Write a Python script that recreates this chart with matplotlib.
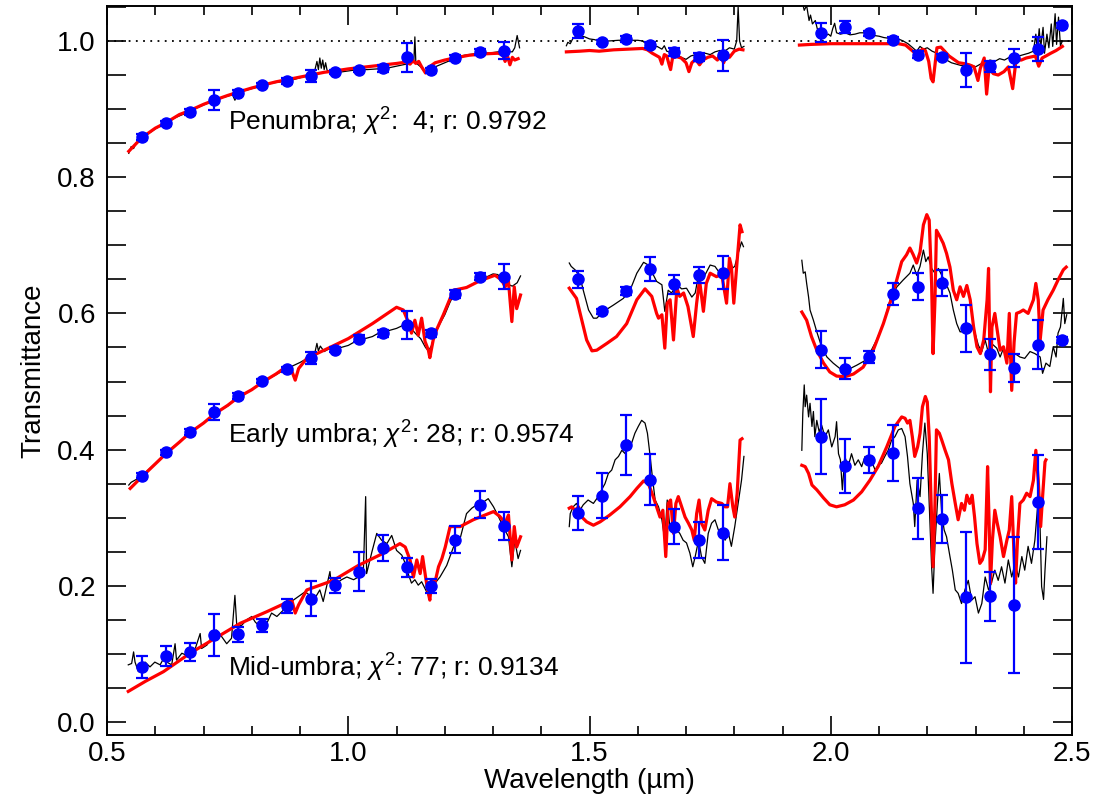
import matplotlib.pyplot as plt
from matplotlib.ticker import MultipleLocator

plt.rcParams['font.family'] = ['Liberation Sans', 'DejaVu Sans']
plt.rcParams['mathtext.fontset'] = 'custom'
plt.rcParams['mathtext.rm'] = 'Liberation Sans'
plt.rcParams['mathtext.it'] = 'Liberation Sans:italic'

# ---- broadband points (wavelength in um) ----
pts_w1 = [0.572, 0.622, 0.672, 0.722, 0.772, 0.822, 0.872, 0.922, 0.972, 1.022, 1.072, 1.122, 1.172, 1.222, 1.272, 1.322]
pts_w2 = [1.476, 1.526, 1.576, 1.626, 1.676, 1.726, 1.776]
pts_w3 = [1.980, 2.030, 2.080, 2.130, 2.180, 2.230, 2.280, 2.330, 2.380, 2.430, 2.480]

pen_pts = [0.859, 0.879, 0.896, 0.913, 0.924, 0.936, 0.941, 0.949, 0.955, 0.958, 0.960, 0.976, 0.957, 0.975, 0.984, 0.986,
           1.015, 0.999, 1.003, 0.994, 0.984, 0.976, 0.979,
           1.012, 1.021, 1.011, 1.002, 0.980, 0.977, 0.958, 0.963, 0.975, 0.988, 1.023]
pen_err = [0.004, 0.004, 0.004, 0.015, 0.004, 0.003, 0.004, 0.009, 0.003, 0.003, 0.005, 0.021, 0.004, 0.004, 0.004, 0.013,
           0.010, 0.003, 0.004, 0.005, 0.006, 0.006, 0.023,
           0.014, 0.009, 0.004, 0.004, 0.005, 0.004, 0.025, 0.008, 0.013, 0.018, 0.004]

early_pts = [0.362, 0.396, 0.426, 0.455, 0.479, 0.501, 0.518, 0.534, 0.547, 0.563, 0.571, 0.583, 0.571, 0.628, 0.654, 0.654,
             0.650, 0.603, 0.633, 0.665, 0.643, 0.656, 0.660,
             0.547, 0.519, 0.536, 0.628, 0.639, 0.645, 0.578, 0.540, 0.520, 0.554, 0.561]
early_err = [0.004, 0.004, 0.004, 0.012, 0.004, 0.003, 0.004, 0.009, 0.004, 0.005, 0.005, 0.021, 0.005, 0.006, 0.005, 0.018,
             0.012, 0.004, 0.006, 0.018, 0.014, 0.012, 0.024,
             0.027, 0.015, 0.009, 0.016, 0.020, 0.019, 0.035, 0.023, 0.021, 0.036, 0.004]

mid_pts = [0.081, 0.097, 0.103, 0.128, 0.129, 0.142, 0.170, 0.181, 0.201, 0.221, 0.256, 0.227, 0.200, 0.268, 0.319, 0.288,
           0.307, 0.332, 0.407, 0.356, 0.287, 0.267, 0.278,
           0.419, 0.376, 0.385, 0.395, 0.314, 0.298, 0.183, 0.185, 0.172, 0.323]
mid_err = [0.016, 0.015, 0.013, 0.031, 0.011, 0.010, 0.010, 0.026, 0.011, 0.029, 0.019, 0.014, 0.010, 0.020, 0.020, 0.021,
           0.025, 0.033, 0.044, 0.038, 0.026, 0.026, 0.040,
           0.055, 0.039, 0.019, 0.041, 0.045, 0.035, 0.096, 0.036, 0.100, 0.069]

# ---- penumbra spectrum (observed) and model, three windows ----
pen_obs_1 = [(0.545, 0.835), (0.550, 0.845), (0.555, 0.842), (0.560, 0.850), (0.570, 0.856), (0.580, 0.862), (0.590, 0.866),
             (0.600, 0.871), (0.610, 0.875), (0.620, 0.879), (0.630, 0.882), (0.640, 0.887), (0.650, 0.890), (0.660, 0.893),
             (0.670, 0.897), (0.680, 0.900), (0.690, 0.903), (0.700, 0.906), (0.720, 0.912), (0.740, 0.917), (0.760, 0.921),
             (0.765, 0.913), (0.770, 0.922), (0.780, 0.926), (0.800, 0.930), (0.820, 0.934), (0.840, 0.938), (0.860, 0.940),
             (0.880, 0.942), (0.900, 0.946), (0.920, 0.950), (0.930, 0.955), (0.935, 0.970), (0.938, 0.958), (0.941, 0.975),
             (0.944, 0.960), (0.947, 0.972), (0.950, 0.958), (0.953, 0.968), (0.956, 0.957), (0.960, 0.956), (0.970, 0.953),
             (0.980, 0.954), (1.000, 0.956), (1.020, 0.958), (1.040, 0.958), (1.060, 0.959), (1.080, 0.960), (1.100, 0.963),
             (1.120, 0.966), (1.130, 0.968), (1.136, 0.972), (1.138, 1.006), (1.140, 0.968), (1.150, 0.962), (1.160, 0.953),
             (1.170, 0.952), (1.180, 0.962), (1.200, 0.968), (1.220, 0.974), (1.240, 0.979), (1.260, 0.981), (1.280, 0.982),
             (1.300, 0.983), (1.320, 0.985), (1.340, 0.984), (1.345, 0.990), (1.350, 1.008), (1.355, 0.990)]
pen_obs_2 = [(1.452, 0.993), (1.455, 0.998), (1.460, 0.996), (1.465, 1.003), (1.470, 1.006), (1.475, 1.010), (1.480, 1.008),
             (1.490, 1.006), (1.500, 1.003), (1.510, 1.002), (1.520, 1.000), (1.540, 1.000), (1.560, 1.001), (1.580, 1.001),
             (1.600, 1.001), (1.610, 1.000), (1.620, 0.994), (1.630, 0.990), (1.640, 0.992), (1.650, 0.988), (1.655, 0.993),
             (1.660, 0.985), (1.670, 0.983), (1.680, 0.981), (1.690, 0.976), (1.700, 0.973), (1.710, 0.978), (1.720, 0.980),
             (1.730, 0.979), (1.740, 0.982), (1.750, 0.980), (1.760, 0.984), (1.770, 0.986), (1.780, 0.985), (1.790, 0.990),
             (1.800, 0.988), (1.805, 1.000), (1.808, 1.050), (1.811, 1.000), (1.815, 0.990), (1.820, 0.992)]
pen_obs_3 = [(1.940, 1.060), (1.945, 1.045), (1.950, 1.052), (1.955, 1.030), (1.958, 1.038), (1.962, 1.025), (1.968, 1.030),
             (1.972, 1.018), (1.978, 1.012), (1.985, 1.016), (1.990, 1.008), (1.995, 1.010), (2.000, 1.007), (2.004, 1.018),
             (2.008, 1.026), (2.012, 1.012), (2.020, 1.010), (2.030, 1.012), (2.040, 1.009), (2.050, 1.010), (2.060, 1.012),
             (2.070, 1.012), (2.080, 1.008), (2.090, 1.008), (2.100, 1.007), (2.110, 1.005), (2.120, 1.004), (2.130, 1.003),
             (2.140, 1.003), (2.150, 1.000), (2.160, 0.996), (2.170, 0.990), (2.178, 0.985), (2.185, 0.992), (2.192, 0.988),
             (2.200, 0.990), (2.210, 0.985), (2.220, 0.982), (2.230, 0.978), (2.240, 0.972), (2.250, 0.968), (2.260, 0.966),
             (2.270, 0.964), (2.280, 0.963), (2.290, 0.965), (2.300, 0.962), (2.310, 0.966), (2.320, 0.968), (2.330, 0.972),
             (2.340, 0.970), (2.350, 0.974), (2.360, 0.972), (2.370, 0.976), (2.380, 0.975), (2.390, 0.978), (2.400, 0.980),
             (2.410, 0.982), (2.420, 0.985), (2.425, 1.010), (2.428, 0.985), (2.432, 1.018), (2.435, 0.990), (2.440, 1.020),
             (2.443, 0.982), (2.448, 1.010), (2.452, 0.990), (2.457, 1.025), (2.460, 0.992), (2.465, 1.040), (2.468, 0.995),
             (2.472, 1.035), (2.476, 0.993), (2.480, 1.000)]
pen_mod_1 = [(0.545, 0.838), (0.572, 0.858), (0.600, 0.872), (0.622, 0.880), (0.650, 0.892), (0.672, 0.898), (0.700, 0.907),
             (0.722, 0.913), (0.750, 0.920), (0.772, 0.925), (0.800, 0.931), (0.822, 0.935), (0.850, 0.940), (0.872, 0.943),
             (0.900, 0.947), (0.922, 0.950), (0.950, 0.954), (0.972, 0.956), (1.000, 0.959), (1.050, 0.963), (1.100, 0.967),
             (1.120, 0.969), (1.128, 0.966), (1.134, 0.971), (1.140, 0.967), (1.146, 0.970), (1.152, 0.962), (1.160, 0.953),
             (1.166, 0.956), (1.172, 0.964), (1.180, 0.968), (1.200, 0.972), (1.220, 0.975), (1.250, 0.979), (1.280, 0.981),
             (1.310, 0.982), (1.320, 0.980), (1.325, 0.970), (1.330, 0.978), (1.335, 0.965), (1.340, 0.976), (1.345, 0.972),
             (1.352, 0.974)]
pen_mod_2 = [(1.452, 0.984), (1.480, 0.985), (1.500, 0.986), (1.520, 0.985), (1.550, 0.987), (1.580, 0.988), (1.610, 0.989),
             (1.620, 0.987), (1.630, 0.982), (1.640, 0.978), (1.645, 0.976), (1.650, 0.966), (1.655, 0.980), (1.660, 0.978),
             (1.665, 0.965), (1.668, 0.958), (1.672, 0.975), (1.680, 0.977), (1.690, 0.975), (1.700, 0.968), (1.706, 0.955),
             (1.712, 0.968), (1.720, 0.973), (1.728, 0.965), (1.735, 0.972), (1.745, 0.976), (1.755, 0.978), (1.765, 0.972),
             (1.770, 0.980), (1.778, 0.968), (1.785, 0.982), (1.790, 0.976), (1.800, 0.985), (1.810, 0.988), (1.818, 0.987)]
pen_mod_3 = [(1.935, 0.994), (1.960, 0.995), (2.000, 0.996), (2.050, 0.996), (2.100, 0.996), (2.140, 0.996), (2.155, 0.994),
             (2.165, 0.988), (2.175, 0.982), (2.180, 0.981), (2.190, 0.988), (2.196, 0.986), (2.203, 0.970), (2.208, 0.945),
             (2.212, 0.940), (2.216, 0.965), (2.220, 0.990), (2.228, 0.991), (2.236, 0.985), (2.245, 0.978), (2.255, 0.973),
             (2.265, 0.968), (2.275, 0.967), (2.287, 0.965), (2.297, 0.962), (2.305, 0.942), (2.310, 0.960), (2.318, 0.975),
             (2.323, 0.922), (2.328, 0.960), (2.337, 0.952), (2.347, 0.950), (2.359, 0.955), (2.368, 0.962), (2.377, 0.930),
             (2.384, 0.972), (2.395, 0.972), (2.405, 0.975), (2.418, 0.977), (2.424, 0.978), (2.431, 0.963), (2.438, 0.975),
             (2.446, 0.978), (2.456, 0.982), (2.467, 0.986), (2.480, 0.992)]

# ---- early umbra ----
early_obs_1 = [(0.545, 0.348), (0.550, 0.352), (0.560, 0.356), (0.572, 0.362), (0.585, 0.370), (0.600, 0.380), (0.610, 0.387),
               (0.622, 0.395), (0.635, 0.403), (0.650, 0.411), (0.660, 0.417), (0.672, 0.424), (0.685, 0.432), (0.700, 0.439),
               (0.710, 0.444), (0.722, 0.451), (0.735, 0.458), (0.750, 0.464), (0.760, 0.470), (0.772, 0.476), (0.785, 0.482),
               (0.800, 0.488), (0.810, 0.493), (0.822, 0.498), (0.835, 0.504), (0.850, 0.510), (0.860, 0.514), (0.872, 0.519),
               (0.885, 0.523), (0.900, 0.528), (0.910, 0.532), (0.922, 0.536), (0.930, 0.540), (0.935, 0.556), (0.938, 0.545),
               (0.942, 0.552), (0.950, 0.544), (0.960, 0.548), (0.972, 0.545), (0.985, 0.550), (1.000, 0.553), (1.010, 0.557),
               (1.022, 0.561), (1.035, 0.563), (1.050, 0.566), (1.060, 0.570), (1.072, 0.571), (1.085, 0.575), (1.100, 0.578),
               (1.112, 0.582), (1.122, 0.585), (1.130, 0.578), (1.140, 0.570), (1.150, 0.563), (1.160, 0.550), (1.166, 0.545),
               (1.172, 0.552), (1.180, 0.570), (1.190, 0.585), (1.200, 0.598), (1.210, 0.615), (1.220, 0.630), (1.235, 0.636),
               (1.250, 0.640), (1.270, 0.648), (1.285, 0.653), (1.300, 0.658), (1.310, 0.657), (1.320, 0.648), (1.330, 0.643),
               (1.340, 0.640), (1.350, 0.645), (1.357, 0.655)]
early_obs_2 = [(1.458, 0.674), (1.462, 0.669), (1.470, 0.664), (1.480, 0.654), (1.487, 0.634), (1.498, 0.605), (1.508, 0.593),
               (1.515, 0.593), (1.529, 0.603), (1.549, 0.612), (1.570, 0.622), (1.584, 0.634), (1.598, 0.659), (1.612, 0.675),
               (1.622, 0.671), (1.639, 0.647), (1.650, 0.642), (1.656, 0.603), (1.663, 0.634), (1.670, 0.630), (1.681, 0.642),
               (1.691, 0.636), (1.701, 0.637), (1.712, 0.624), (1.719, 0.630), (1.726, 0.657), (1.736, 0.652), (1.750, 0.671),
               (1.760, 0.669), (1.770, 0.659), (1.781, 0.661), (1.791, 0.664), (1.801, 0.669), (1.808, 0.688), (1.815, 0.705),
               (1.819, 0.698)]
early_obs_3 = [(1.940, 0.678), (1.943, 0.659), (1.947, 0.661), (1.950, 0.644), (1.954, 0.624), (1.957, 0.605), (1.964, 0.590),
               (1.971, 0.573), (1.981, 0.551), (1.992, 0.536), (2.005, 0.527), (2.019, 0.519), (2.029, 0.512), (2.040, 0.519),
               (2.054, 0.524), (2.074, 0.532), (2.095, 0.561), (2.109, 0.585), (2.123, 0.620), (2.137, 0.639), (2.150, 0.649),
               (2.164, 0.659), (2.171, 0.671), (2.178, 0.656), (2.185, 0.669), (2.192, 0.693), (2.197, 0.676), (2.202, 0.683),
               (2.209, 0.666), (2.216, 0.659), (2.223, 0.666), (2.230, 0.656), (2.237, 0.647), (2.247, 0.630), (2.254, 0.605),
               (2.261, 0.585), (2.268, 0.573), (2.275, 0.573), (2.285, 0.573), (2.292, 0.580), (2.299, 0.571), (2.306, 0.553),
               (2.313, 0.544), (2.320, 0.561), (2.327, 0.541), (2.333, 0.556), (2.344, 0.549), (2.351, 0.536), (2.358, 0.549),
               (2.365, 0.541), (2.371, 0.534), (2.382, 0.541), (2.392, 0.536), (2.402, 0.534), (2.413, 0.544), (2.423, 0.541),
               (2.434, 0.536), (2.439, 0.512), (2.446, 0.527), (2.454, 0.522), (2.461, 0.551), (2.467, 0.536), (2.471, 0.571),
               (2.476, 0.580), (2.482, 0.622), (2.485, 0.585), (2.489, 0.598)]
early_mod_1 = [(0.548, 0.343), (0.572, 0.360), (0.600, 0.379), (0.622, 0.394), (0.650, 0.411), (0.672, 0.425), (0.700, 0.439),
               (0.722, 0.452), (0.750, 0.465), (0.772, 0.477), (0.800, 0.488), (0.822, 0.499), (0.850, 0.511), (0.872, 0.522),
               (0.880, 0.521), (0.890, 0.502), (0.897, 0.519), (0.914, 0.534), (0.950, 0.546), (1.000, 0.563), (1.050, 0.585),
               (1.100, 0.609), (1.114, 0.605), (1.124, 0.588), (1.131, 0.571), (1.138, 0.590), (1.145, 0.568), (1.152, 0.593),
               (1.159, 0.559), (1.166, 0.546), (1.169, 0.535), (1.176, 0.561), (1.183, 0.576), (1.197, 0.598), (1.218, 0.634),
               (1.245, 0.638), (1.273, 0.648), (1.304, 0.656), (1.318, 0.649), (1.325, 0.639), (1.332, 0.647), (1.339, 0.588),
               (1.344, 0.639), (1.349, 0.607), (1.357, 0.627)]
early_mod_2 = [(1.458, 0.637), (1.473, 0.622), (1.484, 0.590), (1.494, 0.561), (1.505, 0.545), (1.515, 0.546), (1.536, 0.556),
               (1.556, 0.566), (1.577, 0.585), (1.598, 0.620), (1.615, 0.636), (1.629, 0.625), (1.639, 0.600), (1.643, 0.593),
               (1.650, 0.598), (1.656, 0.549), (1.661, 0.615), (1.667, 0.620), (1.674, 0.561), (1.681, 0.637), (1.687, 0.625),
               (1.695, 0.630), (1.704, 0.610), (1.715, 0.566), (1.722, 0.615), (1.728, 0.649), (1.736, 0.603), (1.742, 0.644),
               (1.750, 0.659), (1.763, 0.654), (1.774, 0.657), (1.784, 0.615), (1.790, 0.681), (1.794, 0.669), (1.799, 0.615),
               (1.805, 0.669), (1.812, 0.730), (1.816, 0.720)]
early_mod_3 = [(1.940, 0.602), (1.950, 0.590), (1.960, 0.566), (1.971, 0.546), (1.985, 0.527), (1.998, 0.514), (2.012, 0.508),
               (2.029, 0.507), (2.047, 0.511), (2.067, 0.521), (2.088, 0.546), (2.109, 0.585), (2.129, 0.629), (2.147, 0.676),
               (2.157, 0.686), (2.164, 0.696), (2.171, 0.686), (2.178, 0.674), (2.185, 0.690), (2.192, 0.730), (2.199, 0.745),
               (2.204, 0.737), (2.209, 0.644), (2.212, 0.541), (2.216, 0.620), (2.219, 0.722), (2.226, 0.713), (2.233, 0.703),
               (2.240, 0.688), (2.247, 0.668), (2.254, 0.634), (2.261, 0.620), (2.268, 0.639), (2.275, 0.625), (2.282, 0.641),
               (2.289, 0.620), (2.296, 0.580), (2.303, 0.551), (2.310, 0.541), (2.317, 0.561), (2.324, 0.620), (2.327, 0.666),
               (2.331, 0.485), (2.334, 0.580), (2.340, 0.600), (2.344, 0.580), (2.351, 0.546), (2.358, 0.551), (2.365, 0.527),
               (2.370, 0.600), (2.375, 0.487), (2.380, 0.558), (2.385, 0.600), (2.392, 0.602), (2.399, 0.605), (2.409, 0.600),
               (2.420, 0.620), (2.425, 0.644), (2.430, 0.620), (2.434, 0.561), (2.440, 0.605), (2.450, 0.620), (2.461, 0.634),
               (2.471, 0.649), (2.482, 0.664), (2.488, 0.668)]

# ---- mid-umbra ----
mid_obs_1 = [(0.544, 0.084), (0.551, 0.086), (0.555, 0.103), (0.558, 0.088), (0.565, 0.074), (0.572, 0.076), (0.579, 0.088),
             (0.589, 0.081), (0.599, 0.088), (0.610, 0.084), (0.617, 0.093), (0.624, 0.088), (0.634, 0.084), (0.641, 0.115),
             (0.644, 0.091), (0.655, 0.101), (0.665, 0.098), (0.672, 0.110), (0.682, 0.106), (0.693, 0.130), (0.696, 0.108),
             (0.707, 0.113), (0.717, 0.125), (0.727, 0.135), (0.738, 0.125), (0.748, 0.115), (0.758, 0.123), (0.765, 0.186),
             (0.769, 0.140), (0.779, 0.142), (0.789, 0.150), (0.800, 0.155), (0.807, 0.147), (0.817, 0.140), (0.831, 0.145),
             (0.841, 0.160), (0.852, 0.155), (0.862, 0.162), (0.872, 0.169), (0.886, 0.179), (0.900, 0.186), (0.910, 0.191),
             (0.921, 0.186), (0.931, 0.182), (0.941, 0.194), (0.948, 0.177), (0.955, 0.199), (0.962, 0.221), (0.966, 0.194),
             (0.976, 0.204), (0.986, 0.209), (0.997, 0.213), (1.011, 0.209), (1.021, 0.213), (1.031, 0.216), (1.036, 0.331),
             (1.038, 0.218), (1.049, 0.250), (1.059, 0.277), (1.069, 0.267), (1.080, 0.262), (1.090, 0.274), (1.100, 0.252),
             (1.111, 0.245), (1.118, 0.233), (1.124, 0.218), (1.131, 0.204), (1.138, 0.209), (1.145, 0.201), (1.152, 0.206),
             (1.159, 0.196), (1.166, 0.186), (1.173, 0.194), (1.180, 0.204), (1.190, 0.213), (1.204, 0.230), (1.218, 0.257),
             (1.232, 0.270), (1.245, 0.306), (1.256, 0.314), (1.266, 0.319), (1.280, 0.323), (1.290, 0.328), (1.301, 0.316),
             (1.311, 0.302), (1.321, 0.287), (1.332, 0.272), (1.339, 0.228), (1.345, 0.267), (1.352, 0.240), (1.357, 0.252)]
mid_obs_2 = [(1.458, 0.287), (1.460, 0.306), (1.466, 0.316), (1.473, 0.321), (1.480, 0.311), (1.487, 0.319), (1.497, 0.326),
             (1.508, 0.321), (1.518, 0.331), (1.525, 0.341), (1.532, 0.350), (1.539, 0.365), (1.546, 0.370), (1.553, 0.385),
             (1.560, 0.390), (1.567, 0.399), (1.574, 0.394), (1.580, 0.414), (1.587, 0.409), (1.594, 0.424), (1.601, 0.434),
             (1.608, 0.443), (1.615, 0.439), (1.620, 0.424), (1.625, 0.394), (1.631, 0.355), (1.636, 0.326), (1.643, 0.316),
             (1.650, 0.297), (1.656, 0.267), (1.661, 0.326), (1.667, 0.282), (1.674, 0.306), (1.681, 0.282), (1.687, 0.277),
             (1.694, 0.267), (1.701, 0.263), (1.708, 0.248), (1.714, 0.228), (1.719, 0.243), (1.726, 0.267), (1.732, 0.243),
             (1.739, 0.233), (1.746, 0.277), (1.753, 0.292), (1.760, 0.297), (1.767, 0.282), (1.774, 0.277), (1.781, 0.267),
             (1.788, 0.277), (1.794, 0.258), (1.801, 0.287), (1.808, 0.321), (1.815, 0.355), (1.820, 0.390)]
mid_obs_3 = [(1.940, 0.399), (1.942, 0.453), (1.945, 0.495), (1.947, 0.463), (1.950, 0.480), (1.954, 0.448), (1.957, 0.468),
             (1.961, 0.434), (1.964, 0.456), (1.967, 0.419), (1.971, 0.443), (1.976, 0.426), (1.981, 0.436), (1.988, 0.419),
             (1.995, 0.429), (2.002, 0.404), (2.009, 0.419), (2.012, 0.441), (2.016, 0.394), (2.020, 0.385), (2.024, 0.341),
             (2.029, 0.390), (2.036, 0.375), (2.043, 0.394), (2.050, 0.377), (2.057, 0.385), (2.064, 0.375), (2.071, 0.390),
             (2.078, 0.377), (2.085, 0.382), (2.092, 0.370), (2.098, 0.377), (2.105, 0.380), (2.112, 0.390), (2.119, 0.399),
             (2.126, 0.414), (2.133, 0.419), (2.140, 0.429), (2.147, 0.431), (2.154, 0.419), (2.159, 0.390), (2.164, 0.350),
             (2.171, 0.321), (2.174, 0.287), (2.179, 0.355), (2.185, 0.331), (2.190, 0.394), (2.195, 0.439), (2.200, 0.394),
             (2.204, 0.321), (2.209, 0.228), (2.212, 0.189), (2.216, 0.262), (2.221, 0.321), (2.225, 0.365), (2.230, 0.306),
             (2.235, 0.282), (2.240, 0.272), (2.247, 0.243), (2.252, 0.223), (2.258, 0.194), (2.264, 0.189), (2.271, 0.174),
             (2.278, 0.194), (2.285, 0.208), (2.292, 0.179), (2.299, 0.184), (2.306, 0.160), (2.313, 0.174), (2.320, 0.213),
             (2.327, 0.194), (2.333, 0.204), (2.340, 0.223), (2.347, 0.208), (2.354, 0.228), (2.361, 0.204), (2.368, 0.238),
             (2.375, 0.213), (2.382, 0.233), (2.389, 0.213), (2.396, 0.243), (2.402, 0.223), (2.409, 0.258), (2.416, 0.233),
             (2.423, 0.267), (2.428, 0.311), (2.432, 0.336), (2.437, 0.199), (2.441, 0.180), (2.444, 0.223), (2.448, 0.272)]
mid_mod_1 = [(0.544, 0.045), (0.580, 0.060), (0.617, 0.074), (0.672, 0.101), (0.724, 0.123), (0.776, 0.145), (0.831, 0.162),
             (0.883, 0.179), (0.890, 0.160), (0.897, 0.172), (0.914, 0.194), (0.969, 0.208), (1.021, 0.230), (1.073, 0.248),
             (1.107, 0.262), (1.118, 0.257), (1.128, 0.238), (1.135, 0.213), (1.142, 0.238), (1.149, 0.218), (1.154, 0.243),
             (1.161, 0.209), (1.166, 0.189), (1.169, 0.179), (1.173, 0.209), (1.180, 0.206), (1.187, 0.228), (1.194, 0.240),
             (1.201, 0.257), (1.211, 0.287), (1.232, 0.287), (1.259, 0.297), (1.301, 0.309), (1.314, 0.302), (1.325, 0.292),
             (1.332, 0.304), (1.339, 0.238), (1.344, 0.287), (1.349, 0.257), (1.357, 0.272)]
mid_mod_2 = [(1.458, 0.314), (1.463, 0.316), (1.470, 0.311), (1.477, 0.316), (1.484, 0.301), (1.494, 0.294), (1.508, 0.289),
             (1.522, 0.294), (1.542, 0.304), (1.563, 0.316), (1.584, 0.331), (1.598, 0.343), (1.612, 0.354), (1.622, 0.350),
             (1.632, 0.331), (1.639, 0.316), (1.646, 0.301), (1.652, 0.311), (1.658, 0.243), (1.663, 0.321), (1.668, 0.326),
             (1.674, 0.277), (1.679, 0.321), (1.684, 0.331), (1.691, 0.316), (1.698, 0.301), (1.705, 0.292), (1.712, 0.282),
             (1.717, 0.267), (1.722, 0.306), (1.727, 0.326), (1.732, 0.292), (1.739, 0.282), (1.746, 0.311), (1.753, 0.328),
             (1.763, 0.323), (1.774, 0.321), (1.781, 0.316), (1.786, 0.316), (1.791, 0.350), (1.797, 0.316), (1.801, 0.301),
             (1.806, 0.336), (1.812, 0.414), (1.816, 0.416)]
mid_mod_3 = [(1.940, 0.377), (1.947, 0.375), (1.954, 0.365), (1.961, 0.348), (1.971, 0.341), (1.985, 0.329), (1.998, 0.319),
             (2.012, 0.316), (2.029, 0.319), (2.047, 0.326), (2.064, 0.338), (2.081, 0.355), (2.098, 0.375), (2.116, 0.404),
             (2.133, 0.434), (2.147, 0.448), (2.154, 0.446), (2.159, 0.439), (2.164, 0.443), (2.169, 0.419), (2.174, 0.390),
             (2.180, 0.404), (2.185, 0.424), (2.190, 0.463), (2.196, 0.478), (2.200, 0.470), (2.204, 0.419), (2.208, 0.321),
             (2.212, 0.228), (2.216, 0.321), (2.219, 0.429), (2.225, 0.424), (2.230, 0.414), (2.237, 0.399), (2.244, 0.385),
             (2.251, 0.350), (2.258, 0.321), (2.264, 0.297), (2.271, 0.321), (2.277, 0.311), (2.282, 0.333), (2.288, 0.321),
             (2.293, 0.333), (2.298, 0.301), (2.303, 0.262), (2.309, 0.233), (2.314, 0.238), (2.320, 0.253), (2.325, 0.375),
             (2.328, 0.297), (2.331, 0.204), (2.335, 0.267), (2.340, 0.311), (2.345, 0.292), (2.351, 0.272), (2.358, 0.243),
             (2.365, 0.267), (2.370, 0.282), (2.375, 0.331), (2.380, 0.243), (2.383, 0.204), (2.387, 0.267), (2.392, 0.321),
             (2.399, 0.326), (2.406, 0.336), (2.413, 0.331), (2.420, 0.355), (2.425, 0.399), (2.430, 0.355), (2.435, 0.287),
             (2.439, 0.331), (2.444, 0.382), (2.446, 0.385)]

pts_w = pts_w1 + pts_w2 + pts_w3

fig = plt.figure(figsize=(11.07, 8.06), dpi=100)
ax = fig.add_axes([0.0967, 0.0881, 0.8717, 0.9045])

ax.axhline(1.0, color='black', linestyle=(0, (1, 3)), linewidth=1.3, zorder=1)

for seg in [pen_obs_1, pen_obs_2, pen_obs_3, early_obs_1, early_obs_2, early_obs_3, mid_obs_1, mid_obs_2, mid_obs_3]:
    ax.plot([p[0] for p in seg], [p[1] for p in seg], color='black', linewidth=0.9, zorder=2)

for seg in [pen_mod_1, pen_mod_2, pen_mod_3, early_mod_1, early_mod_2, early_mod_3, mid_mod_1, mid_mod_2, mid_mod_3]:
    ax.plot([p[0] for p in seg], [p[1] for p in seg], color='red', linewidth=2.3, zorder=3)

for vals, errs in [(pen_pts, pen_err), (early_pts, early_err), (mid_pts, mid_err)]:
    ax.errorbar(pts_w[:len(vals)], vals, yerr=errs, fmt='o', color='blue', markersize=8,
                elinewidth=1.6, capsize=4.5, capthick=1.6, zorder=4)

ax.text(0.751, 0.869, 'Penumbra; $\\chi^2$:  4; r: 0.9792', fontsize=19)
ax.text(0.751, 0.409, 'Early umbra; $\\chi^2$: 28; r: 0.9574', fontsize=19)
ax.text(0.751, 0.0665, 'Mid-umbra; $\\chi^2$: 77; r: 0.9134', fontsize=19)

ax.set_xlim(0.5, 2.5)
ax.set_ylim(-0.019, 1.0514)
ax.xaxis.set_major_locator(MultipleLocator(0.5))
ax.xaxis.set_minor_locator(MultipleLocator(0.1))
ax.yaxis.set_major_locator(MultipleLocator(0.2))
ax.yaxis.set_minor_locator(MultipleLocator(0.05))
ax.xaxis.set_major_formatter(plt.FormatStrFormatter('%.1f'))
ax.yaxis.set_major_formatter(plt.FormatStrFormatter('%.1f'))
ax.tick_params(which='both', direction='in', top=True, right=True, labelsize=20, width=1.2)
ax.tick_params(axis='x', which='major', length=14, pad=4)
ax.tick_params(axis='x', which='minor', length=6.5)
ax.tick_params(axis='y', which='both', length=14, pad=8)
for s in ax.spines.values():
    s.set_linewidth(1.4)

ax.set_xlabel('Wavelength (µm)', fontsize=20, labelpad=1)
ax.set_ylabel('Transmittance', fontsize=20, labelpad=8)

plt.savefig('out.png', dpi=100)
